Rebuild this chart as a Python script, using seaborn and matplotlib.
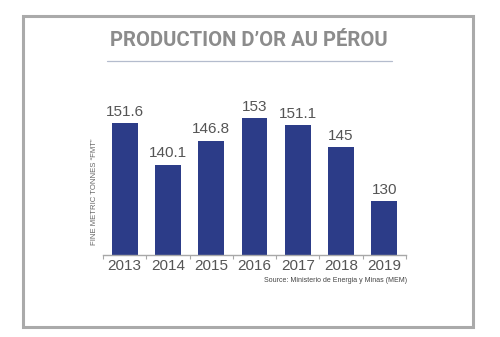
import matplotlib
matplotlib.use("Agg")
import matplotlib.pyplot as plt
import seaborn as sns
import pandas as pd
from matplotlib.patches import Rectangle
from matplotlib.lines import Line2D

years = ["2013", "2014", "2015", "2016", "2017", "2018", "2019"]
production = [151.6, 140.1, 146.8, 153, 151.1, 145, 130]
value_labels = ["151.6", "140.1", "146.8", "153", "151.1", "145", "130"]

title = "PRODUCTION D\u2019OR AU P\u00c9ROU"
ylabel = "FINE METRIC TONNES \u201cFMT\u201d"
source = "Source: Ministerio de Energia y Minas (MEM)"

sns.set_theme(style="white")
plt.rcParams["font.family"] = ["Liberation Sans", "DejaVu Sans"]

W, H = 500, 337
fig = plt.figure(figsize=(W / 100, H / 100), dpi=100)
fig.patch.set_facecolor("white")

# outer frame
fig.patches.append(Rectangle((23 / W, 1 - 327 / H), 450 / W, 311 / H,
                             transform=fig.transFigure, fill=False,
                             edgecolor="#aaaaaa", linewidth=2.2))

# title and rule below it
fig.text(249 / W, 1 - 40 / H, title, ha="center", va="center",
         fontsize=14.6, fontweight="bold", color="#8c8c8c", family="Roboto")
fig.lines.append(Line2D([107 / W, 392 / W], [1 - 61 / H, 1 - 61 / H],
                        transform=fig.transFigure, color="#b4bccd",
                        linewidth=0.9))

# plotting area
left, right, bottom, top = 103, 406, 255, 93
ax = fig.add_axes([left / W, 1 - bottom / H, (right - left) / W, (bottom - top) / H])
df = pd.DataFrame({"year": years, "value": production})
sns.barplot(data=df, x="year", y="value", ax=ax, color="#2c3c88",
            saturation=1, width=0.6, edgecolor="none")

ax.set_ylim(115, 160)
ax.set_xlim(-0.5, len(years) - 0.5)
for s in ["top", "right", "left"]:
    ax.spines[s].set_visible(False)
ax.spines["bottom"].set_color("#a8a8a8")
ax.spines["bottom"].set_linewidth(1.0)
ax.set_yticks([])
ax.set_xlabel("")
ax.set_ylabel(ylabel, fontsize=5.6, color="#666666")
ax.yaxis.set_label_coords(-0.015, 0.39)
ax.set_xticks(range(len(years)))
ax.set_xticklabels(years, fontsize=11, color="#555555")
ax.set_xticks([i - 0.5 for i in range(len(years) + 1)], minor=True)
ax.tick_params(axis="x", which="major", length=0, pad=3)
ax.tick_params(axis="x", which="minor", length=3, width=0.8,
               color="#a8a8a8", direction="out", bottom=True)

for i, (v, lab) in enumerate(zip(production, value_labels)):
    ax.annotate(lab, (i, v), xytext=(0, 3), textcoords="offset points",
                ha="center", va="bottom", fontsize=11, color="#555555")

fig.text(407 / W, 1 - 281 / H, source, ha="right", va="center",
         fontsize=5, color="#444444")

fig.savefig("out.png", dpi=100, facecolor="white")
